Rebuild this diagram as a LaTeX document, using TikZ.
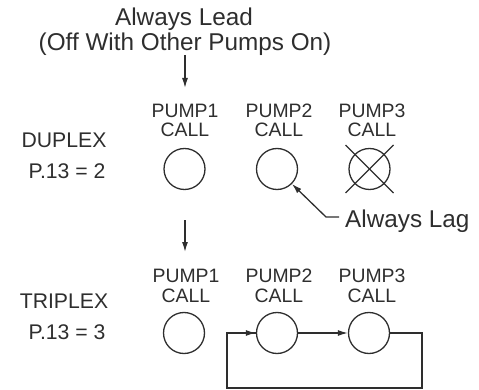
\documentclass[tikz,border=0pt]{standalone}
\usepackage{fontspec}
\setmainfont{Liberation Sans}
\usetikzlibrary{arrows.meta}
\definecolor{ink}{HTML}{2E2E2E}
\begin{document}
\begin{tikzpicture}[x=1pt,y=-1pt,
  every node/.style={text=ink},
  pump/.style={circle,draw=ink,line width=1.3pt,minimum size=41pt,inner sep=0pt},
  big/.style={font=\fontsize{24.3}{28}\selectfont,anchor=base,inner sep=0pt},
  mid/.style={font=\fontsize{21.2}{25}\selectfont,anchor=base,inner sep=0pt},
  lbl/.style={font=\fontsize{19.4}{22}\selectfont,anchor=base,inner sep=0pt},
  wire/.style={draw=ink,line width=1.3pt},
  arr/.style={wire,-{Latex[length=10pt,width=6pt]}}]
\useasboundingbox (0,0) rectangle (479,390);
% top text
\node[big] (lead1) at (184,26) {Always Lead};
\node[big] (lead2) at (185,51) {(Off With Other Pumps On)};
\coordinate (a1s) at (185,55);
\coordinate (a1e) at (185,88);
\draw[arr] (a1s) -- (a1e);
% duplex
\node[mid] (dup) at (64,148) {DUPLEX};
\node[mid] (dupp) at (67,179) {P.13 = 2};
\foreach \n/\x in {1/185,2/279,3/372}{
  \node[lbl] (dp\n) at (\x,118) {PUMP\n};
  \node[lbl] (dc\n) at (\x,137) {CALL};
}
\node[pump] (d1) at (184.5,169) {};
\node[pump] (d2) at (277,169) {};
\node[pump] (d3) at (369.5,169) {};
\draw[wire] (d3.center) ++(-24,-24) -- ++(48,48);
\draw[wire] (d3.center) ++(-24,24) -- ++(48,-48);
% always lag
\node[big,anchor=base west] (lag) at (345,227) {Always Lag};
\coordinate (lagk) at (326,217);
\coordinate (lagh) at (339,217);
\draw[wire,-{Latex[length=10pt,width=6pt]}] (lagh) -- (lagk) -- (d2.-45);
% triplex arrow
\coordinate (a2s) at (185,220);
\coordinate (a2e) at (185,252);
\draw[arr] (a2s) -- (a2e);
% triplex
\node[mid] (tri) at (64,308) {TRIPLEX};
\node[mid] (trip) at (67,339) {P.13 = 3};
\foreach \n/\x in {1/186,2/279,3/372}{
  \node[lbl] (tp\n) at (\x,282) {PUMP\n};
  \node[lbl] (tc\n) at (\x,302) {CALL};
}
\node[pump] (t1) at (184,333) {};
\node[pump] (t2) at (277,333) {};
\node[pump] (t3) at (369,333) {};
\draw[arr] (t2) -- (t3);
\coordinate (ltr) at (422,333);
\coordinate (lbr) at (422,388);
\coordinate (lbl) at (227,388);
\coordinate (ltl) at (227,333);
\draw[wire,line join=miter] (t3) -- (ltr) -- (lbr) -- (lbl) -- (ltl) -- (t2.west);
\draw[arr] (ltl) -- (t2);
\end{tikzpicture}
\end{document}
